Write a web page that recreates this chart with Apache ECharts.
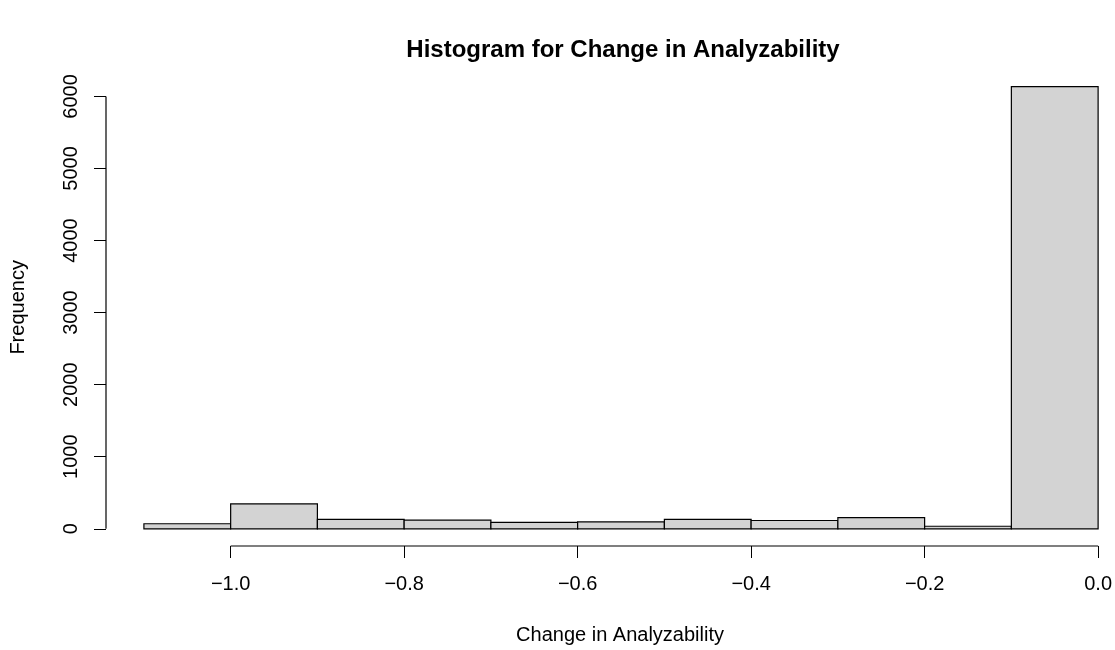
<!DOCTYPE html>
<html>
<head>
<meta charset="utf-8">
<script src="https://cdn.jsdelivr.net/npm/echarts@6/dist/echarts.min.js"></script>
<style>
html, body { margin: 0; padding: 0; background: #fff; }
#hist { width: 1115px; height: 650px; }
</style>
</head>
<body>
<div id="hist"></div>
<script>
// bin edges and counts
var breaks = [-1.1, -1.0, -0.9, -0.8, -0.7, -0.6, -0.5, -0.4, -0.3, -0.2, -0.1, 0.0];
var counts = [70, 345, 130, 120, 88, 95, 130, 115, 155, 35, 6135];
var xTicks = [-1.0, -0.8, -0.6, -0.4, -0.2, 0.0];
var yTicks = [0, 1000, 2000, 3000, 4000, 5000, 6000];

var xMin = -1.1437, xMax = 0.0184;
var yMin = -239, yMax = 6385;

var bins = [];
for (var i = 0; i < counts.length; i++) {
    bins.push([breaks[i], breaks[i + 1], counts[i]]);
}

function fmt(v) {
    return v.toFixed(1).replace('-', '\u2212');
}

var myChart = echarts.init(document.getElementById('hist'));
var textFont = 'Liberation Sans, Arial, sans-serif';

var option = {
    animation: false,
    title: {
        text: 'Histogram for Change in Analyzability',
        left: 618, top: 33, textAlign: 'center',
        textStyle: { fontFamily: textFont, fontSize: 24, fontWeight: 'bold', color: '#000' }
    },
    grid: { left: 105, top: 68.7, right: 0, height: 479.3, containLabel: false },
    xAxis: {
        type: 'value', min: xMin, max: xMax,
        name: 'Change in Analyzability', nameLocation: 'middle', nameGap: 79,
        nameTextStyle: { fontFamily: textFont, fontSize: 20, color: '#000', padding: [0, 0, 0, 20] },
        splitLine: { show: false },
        axisLine: { show: false, onZero: false },
        axisTick: { show: true, inside: false, length: 12, customValues: xTicks, lineStyle: { color: '#000' } },
        axisLabel: { customValues: xTicks, margin: 28, fontFamily: textFont, fontSize: 20, color: '#000', formatter: fmt }
    },
    yAxis: {
        type: 'value', min: yMin, max: yMax,
        name: 'Frequency', nameLocation: 'middle', nameGap: 78,
        nameTextStyle: { fontFamily: textFont, fontSize: 20, color: '#000' },
        splitLine: { show: false },
        axisLine: { show: false, onZero: false },
        axisTick: { show: true, inside: false, length: 12, customValues: yTicks, lineStyle: { color: '#000' } },
        axisLabel: { customValues: yTicks, rotate: 90, margin: 25, fontFamily: textFont, fontSize: 20, color: '#000',
            formatter: function (v) { return String(v); } }
    },
    series: [{
        type: 'custom',
        data: bins,
        clip: false,
        renderItem: function (params, api) {
            var p0 = api.coord([api.value(0), 0]);
            var p1 = api.coord([api.value(1), api.value(2)]);
            return {
                type: 'rect',
                shape: { x: p0[0], y: p1[1], width: p1[0] - p0[0], height: p0[1] - p1[1] },
                style: { fill: '#d3d3d3', stroke: '#000', lineWidth: 1.2 }
            };
        }
    }, {
        // x axis line, first to last tick
        type: 'line', clip: false, symbol: 'none', silent: true,
        data: [[xTicks[0], yMin], [xTicks[xTicks.length - 1], yMin]],
        lineStyle: { color: '#000', width: 1.2 }
    }, {
        // y axis line, first to last tick
        type: 'line', clip: false, symbol: 'none', silent: true,
        data: [[xMin, yTicks[0]], [xMin, yTicks[yTicks.length - 1]]],
        lineStyle: { color: '#000', width: 1.2 }
    }]
};

myChart.setOption(option);
</script>
</body>
</html>
